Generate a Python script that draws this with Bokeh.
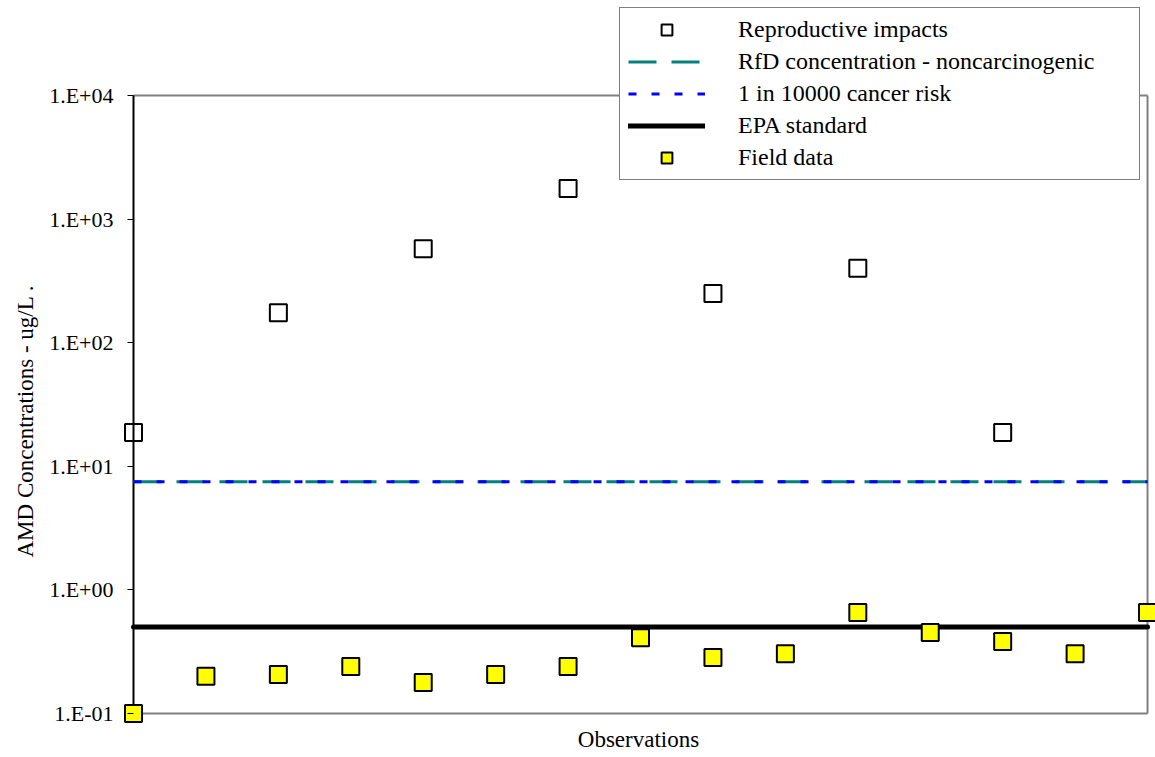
from bokeh.plotting import figure
from bokeh.models import Range1d, FixedTicker, CustomJSTickFormatter, Legend, LegendItem, Title
from bokeh.embed import file_html
from bokeh.resources import INLINE

# ---- data ----
obs = list(range(15))
repro_x = [0, 2, 4, 6, 8, 10, 12]
repro_y = [18.8, 175, 575, 1770, 250, 400, 18.8]
field_y = [0.1, 0.2, 0.207, 0.24, 0.178, 0.207, 0.24, 0.41, 0.284, 0.305, 0.656, 0.452, 0.383, 0.305, 0.656]
rfd_level = 7.5
cancer_level = 7.5
epa_level = 0.5
y_ticks = [0.1, 1, 10, 100, 1000, 10000]
y_min, y_max = 0.1, 10000
x_min, x_max = obs[0], obs[-1]

FONT = "Liberation Serif"

p = figure(width=1155, height=755, y_axis_type="log",
           x_range=Range1d(-0.1657, 14.11), y_range=Range1d(0.0830, 53470),
           output_backend="svg", toolbar_location=None,
           min_border_left=121, min_border_right=0,
           min_border_top=5, min_border_bottom=32)

p.xgrid.grid_line_color = None
p.ygrid.grid_line_color = None
p.outline_line_color = None
p.background_fill_color = "white"
p.border_fill_color = "white"

# plot-area box (gray top/right/bottom, black left axis line)
GRAY = "#808080"
p.line([x_min, x_max], [y_max, y_max], line_color=GRAY, line_width=2)
p.line([x_max, x_max], [y_min, y_max], line_color=GRAY, line_width=2)
p.line([x_min, x_max], [y_min, y_min], line_color=GRAY, line_width=2)
p.line([x_min, x_min], [y_min, y_max], line_color="black", line_width=2)

xline = [x_min, x_max]
r_rfd = p.line(xline, [rfd_level, rfd_level], line_color="#008080", line_width=3, line_dash="28 15")
r_can = p.line(xline, [cancer_level, cancer_level], line_color="#0000FF", line_width=3, line_dash="8 15")
r_epa = p.line(xline, [epa_level, epa_level], line_color="black", line_width=5, line_cap="round")
r_rep = p.scatter(repro_x, repro_y, marker="square", size=17, fill_color=None,
                  line_color="black", line_width=2)
r_fld = p.scatter(obs, field_y, marker="square", size=17, fill_color="#FFFF00",
                  line_color="black", line_width=2)

# y axis
ya = p.yaxis[0]
ya.ticker = FixedTicker(ticks=y_ticks, minor_ticks=[])
ya.formatter = CustomJSTickFormatter(code="""
const e = Math.round(Math.log10(tick));
return "1.E" + (e < 0 ? "-" : "+") + String(Math.abs(e)).padStart(2, "0");
""")
ya.major_label_text_font = FONT
ya.major_label_text_font_size = "22px"
ya.major_label_text_color = "black"
ya.major_tick_out = -6
ya.major_tick_in = 12
ya.major_tick_line_color = "black"
ya.major_tick_line_width = 1
ya.minor_tick_line_color = None
ya.major_label_standoff = 8
ya.axis_line_color = None

p.add_layout(Title(text="AMD Concentrations - ug/L  .", align="left", offset=166,
                   text_font=FONT, text_font_size="23px", text_font_style="normal",
                   text_color="black", standoff=18), "left")

# x axis
xa = p.xaxis[0]
xa.ticker = FixedTicker(ticks=[])
xa.major_tick_line_color = None
xa.minor_tick_line_color = None
xa.axis_line_color = None
xa.axis_label = "Observations"
xa.axis_label_text_font = FONT
xa.axis_label_text_font_size = "23px"
xa.axis_label_text_font_style = "normal"
xa.axis_label_text_color = "black"
xa.axis_label_standoff = 3

legend = Legend(items=[
    LegendItem(label="Reproductive impacts", renderers=[r_rep]),
    LegendItem(label="RfD concentration - noncarcinogenic", renderers=[r_rfd]),
    LegendItem(label="1 in 10000 cancer risk", renderers=[r_can]),
    LegendItem(label="EPA standard", renderers=[r_epa]),
    LegendItem(label="Field data", renderers=[r_fld]),
], location=(498, 543))
legend.label_text_font = FONT
legend.label_text_font_size = "24px"
legend.label_text_color = "black"
legend.padding = 8
legend.margin = 0
legend.spacing = 5
legend.glyph_width = 77
legend.glyph_height = 27
legend.label_height = 27
legend.label_standoff = 33
legend.label_width = 393
legend.border_line_color = "black"
legend.border_line_width = 1.5
legend.background_fill_color = "white"
legend.background_fill_alpha = 1.0
p.add_layout(legend, "center")

open("out.html", "w").write(file_html(p, INLINE))
